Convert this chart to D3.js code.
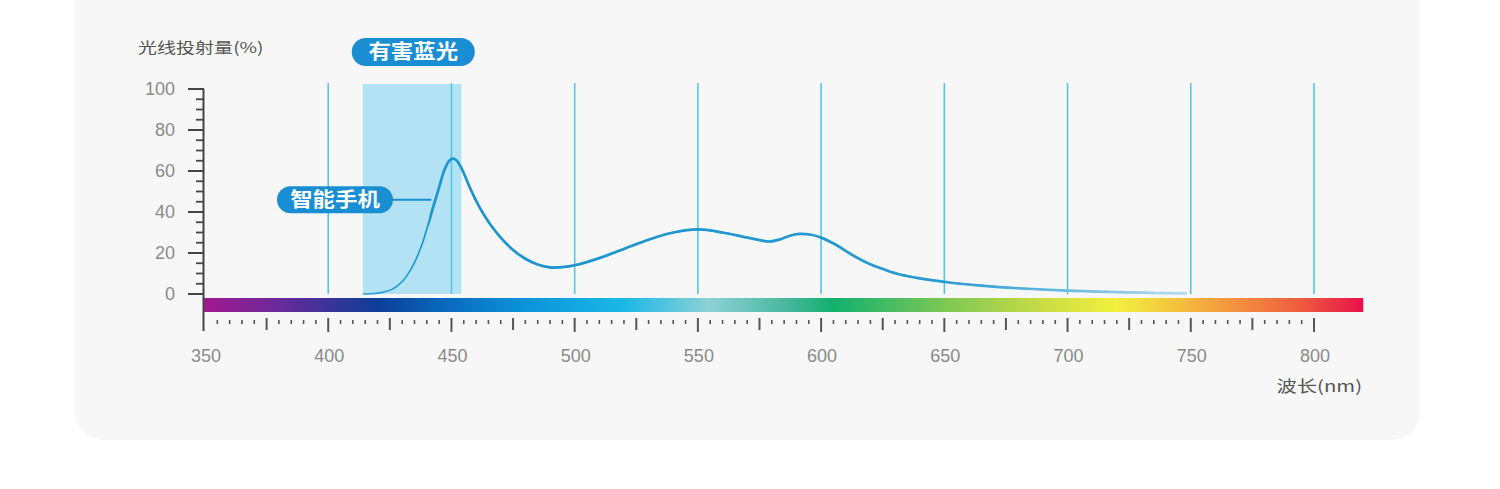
<!DOCTYPE html>
<html><head><meta charset="utf-8">
<script src="https://cdn.jsdelivr.net/npm/d3@7"></script>
<style>
html,body{margin:0;padding:0;background:#fff;}
svg{display:block;}
</style></head>
<body>
<script>
// ---- data ----
const wavelengths = [414,418,422,426,430,434,438,442,445,447,449,450.5,452,454,458,462,466,470,475,480,485,490,495,500,510,520,530,540,550,560,568,575,579,583,587,591,596,600,606,612,619,626,632,640,652,665,680,700,720,735,748];
const intensity   = [0,0.2,0.8,2.3,6,13,24,40,52,60,64.8,66,65.2,61.5,50.5,41,33.5,27.5,21.5,17.2,14.4,13,13.1,14,17.5,22,26.5,30,31.5,30,28,26.3,25.6,26.5,28.3,29.3,28.9,27.5,24,19.5,15,11.8,9.5,7.6,5.6,4.1,2.8,1.6,0.9,0.5,0.3];
const xTicks = [350,400,450,500,550,600,650,700,750,800];
const yTicks = [0,20,40,60,80,100];
const gridLines = [400,450,500,550,600,650,700,750,800];
const blueBand = [414,454];
const spectrumStops = [
  [350,"#a3198f"],[380,"#6a2a9a"],[420,"#0d3e96"],[450,"#0a6cc0"],[480,"#0b93d8"],
  [520,"#1bb8e6"],[555,"#8ed1d6"],[585,"#4cb8a0"],[605,"#11b06e"],[650,"#7cc756"],
  [690,"#c9dc45"],[720,"#f2f03e"],[760,"#f4a33f"],[795,"#ef5a40"],[820,"#e8104c"]
];
const yTitle = "光线投射量(%)";
const xTitle = "波长(nm)";
const bandLabel = "有害蓝光";
const seriesLabel = "智能手机";

// ---- layout ----
const W = 1500, H = 489;
const svg = d3.select("body").append("svg").attr("width", W).attr("height", H);
const x = d3.scaleLinear().domain([350, 800]).range([205, 1314]);
const y = d3.scaleLinear().domain([0, 100]).range([294, 89]);
const sansNum = "'Liberation Sans', 'Noto Sans', Arial, sans-serif";
const cjk = "'Noto Sans CJK SC', sans-serif";
const defs = svg.append("defs");

// card background
svg.append("rect").attr("x", 75).attr("y", -40).attr("width", 1345).attr("height", 480)
  .attr("rx", 28).attr("fill", "#f7f7f7");

// blue band
svg.append("rect").attr("x", x(blueBand[0])).attr("y", 84)
  .attr("width", x(blueBand[1]) - x(blueBand[0])).attr("height", y(0) - 84)
  .attr("fill", "#b4e2f5");

// vertical grid lines
svg.append("g").selectAll("line").data(gridLines).join("line")
  .attr("x1", d => x(d)).attr("x2", d => x(d)).attr("y1", 83).attr("y2", y(0))
  .attr("stroke", "#55c6e8").attr("stroke-width", 1.6);

// spectrum bar
const grad = defs.append("linearGradient").attr("id", "spec").attr("x1", "0%").attr("x2", "100%");
const sx = d3.scaleLinear().domain([350, 820]).range([0, 100]);
grad.selectAll("stop").data(spectrumStops).join("stop")
  .attr("offset", d => sx(d[0]) + "%").attr("stop-color", d => d[1]);
svg.append("rect").attr("x", 204).attr("y", 298).attr("width", x(820) - 204).attr("height", 14)
  .attr("fill", "url(#spec)");

// y axis
const yMinor = d3.range(0, 101, 5);
const gy = svg.append("g");
gy.append("line").attr("x1", 203.5).attr("x2", 203.5).attr("y1", y(100)).attr("y2", 331)
  .attr("stroke", "#444").attr("stroke-width", 2);
gy.selectAll("line.t").data(yMinor).join("line").attr("class", "t")
  .attr("x1", d => d % 20 === 0 ? 188 : 196).attr("x2", 204)
  .attr("y1", d => y(d)).attr("y2", d => y(d))
  .attr("stroke", "#444").attr("stroke-width", d => d % 20 === 0 ? 2 : 1.8);
gy.selectAll("text").data(yTicks).join("text")
  .attr("x", 175).attr("y", d => y(d)).attr("dy", "0.35em").attr("text-anchor", "end")
  .attr("font-family", sansNum).attr("font-size", 18).attr("fill", "#8a8a8a").text(d => d);

// x ticks below bar
const xMinor = d3.range(355, 801, 5);
svg.append("g").selectAll("line").data(xMinor).join("line")
  .attr("x1", d => x(d)).attr("x2", d => x(d))
  .attr("y1", d => d % 25 === 0 ? 318 : 320)
  .attr("y2", d => d % 50 === 0 ? 332 : d % 25 === 0 ? 330 : 324)
  .attr("stroke", "#555").attr("stroke-width", d => d % 25 === 0 ? 2 : 1.6);
svg.append("g").selectAll("text").data(xTicks).join("text")
  .attr("x", d => x(d) + 1).attr("y", 356).attr("dy", "0.35em").attr("text-anchor", "middle")
  .attr("font-family", sansNum).attr("font-size", 18).attr("fill", "#8a8a8a").text(d => d);

// titles (horizontally widened like the reference)
svg.append("text").attr("transform", "translate(138,48) scale(1.27,1)").attr("dy", "0.35em")
  .attr("font-family", cjk).attr("font-size", 15).attr("fill", "#555").text(yTitle);
svg.append("text").attr("transform", "translate(1362,386) scale(1.27,1)").attr("dy", "0.35em")
  .attr("text-anchor", "end")
  .attr("font-family", cjk).attr("font-size", 16).attr("fill", "#555").text(xTitle);

// curve: one geometry, thin at the left foot, thick elsewhere (clip), fading tail
const pts = wavelengths.map((w, i) => [w, intensity[i]]);
const line = d3.line().x(d => x(d[0])).y(d => y(d[1])).curve(d3.curveCatmullRom.alpha(0.5));
const cg = defs.append("linearGradient").attr("id", "curveGrad")
  .attr("gradientUnits", "userSpaceOnUse")
  .attr("x1", x(414)).attr("x2", x(748)).attr("y1", 0).attr("y2", 0);
const cx = d3.scaleLinear().domain([414, 748]).range([0, 100]);
[[414, "#3aa5d8"], [440, "#1f97d2"], [460, "#1a94d0"], [650, "#2a9bd0"], [700, "#6bbbe0"], [748, "#b8dcee"]]
  .forEach(s => cg.append("stop").attr("offset", cx(s[0]) + "%").attr("stop-color", s[1]));
defs.append("clipPath").attr("id", "mainClip").append("rect")
  .attr("x", x(441)).attr("y", 0).attr("width", W).attr("height", H);
const dPath = line(pts);
svg.append("path").attr("d", dPath).attr("fill", "none")
  .attr("stroke", "url(#curveGrad)").attr("stroke-width", 1.7);
svg.append("path").attr("d", dPath).attr("fill", "none").attr("clip-path", "url(#mainClip)")
  .attr("stroke", "url(#curveGrad)").attr("stroke-width", 2.7).attr("stroke-linejoin", "round")
  .attr("stroke-linecap", "round");

// pill labels
const pill = (cx0, cy, w, h, label) => {
  const g = svg.append("g");
  g.append("rect").attr("x", cx0 - w / 2).attr("y", cy - h / 2).attr("width", w).attr("height", h)
    .attr("rx", h / 2).attr("fill", "#1a8ed2");
  g.append("text").attr("transform", `translate(${cx0},${cy}) scale(1.12,1)`)
    .attr("dy", "0.36em").attr("text-anchor", "middle")
    .attr("font-family", cjk).attr("font-weight", "bold").attr("font-size", 20)
    .attr("fill", "#fff").text(label);
};
pill(x(434.5), 52, 123, 28, bandLabel);

const ly = y(46);
svg.append("line").attr("x1", 390).attr("x2", x(441.8)).attr("y1", ly).attr("y2", ly)
  .attr("stroke", "#1a8ed2").attr("stroke-width", 2);
pill(335, ly, 116, 27, seriesLabel);
</script>
</body></html>
